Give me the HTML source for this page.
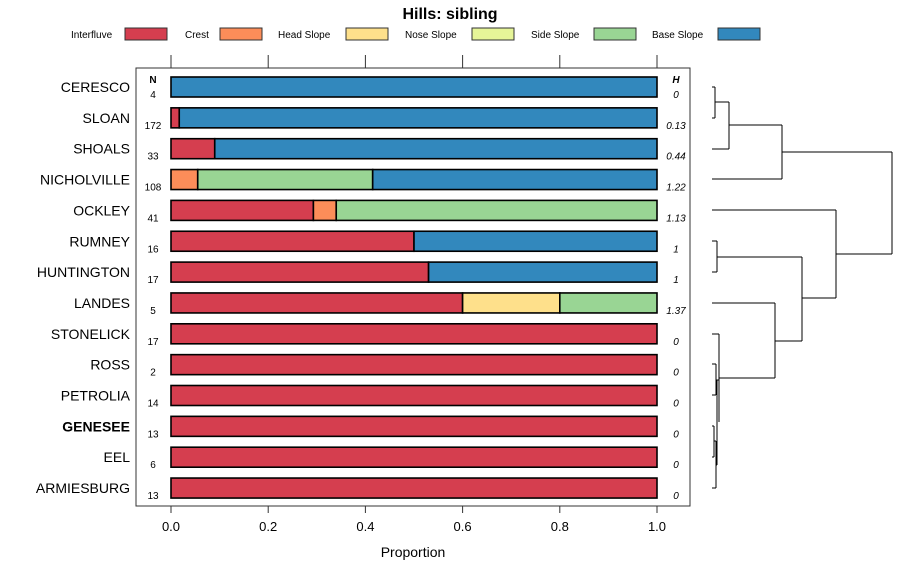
<!DOCTYPE html>
<html><head><meta charset="utf-8"><style>body{margin:0;background:#fff}svg{font-family:"Liberation Sans",sans-serif}</style></head>
<body>
<svg id="c" width="900" height="580"></svg>
<script>
const series=["Interfluve","Crest","Head Slope","Nose Slope","Side Slope","Base Slope"];
const colors=["#D53E4F","#FC8D59","#FEE08B","#E6F598","#99D594","#3288BD"];
const categories=["CERESCO","SLOAN","SHOALS","NICHOLVILLE","OCKLEY","RUMNEY","HUNTINGTON","LANDES","STONELICK","ROSS","PETROLIA","GENESEE","EEL","ARMIESBURG"];
const nValues=[4,172,33,108,41,16,17,5,17,2,14,13,6,13];
const hValues=["0","0.13","0.44","1.22","1.13","1","1","1.37","0","0","0","0","0","0"];
const interfluve=[0,0.017,0.09,0,0.293,0.5,0.53,0.6,1,1,1,1,1,1];
const crest=[0,0,0,0.055,0.047,0,0,0,0,0,0,0,0,0];
const headSlope=[0,0,0,0,0,0,0,0.2,0,0,0,0,0,0];
const noseSlope=[0,0,0,0,0,0,0,0,0,0,0,0,0,0];
const sideSlope=[0,0,0,0.36,0.66,0,0,0.2,0,0,0,0,0,0];
const baseSlope=[1,0.983,0.91,0.585,0,0.5,0.47,0,0,0,0,0,0,0];
const xTicks=[0,0.2,0.4,0.6,0.8,1.0];
const xTickLabels=["0.0","0.2","0.4","0.6","0.8","1.0"];
const svg=document.getElementById('c');const NS="http://www.w3.org/2000/svg";
function mk(t,a,p){const e=document.createElementNS(NS,t);for(const k in a)e.setAttribute(k,a[k]);(p||svg).appendChild(e);return e;}
const X=v=>171+v*486, Y=i=>87+i*30.85;
let t=mk('text',{x:450,y:19,'text-anchor':'middle','font-size':16,'font-weight':'bold'});t.textContent="Hills: sibling";


const lg=[[71,125],[185,220],[278,346],[405,472],[531,594],[652,718]];
series.forEach((s,i)=>{const g=mk('g',{});


let tt=mk('text',{x:lg[i][0],y:38,'font-size':10},g);tt.textContent=s;
mk('rect',{x:lg[i][1],y:28,width:42,height:12,fill:colors[i],stroke:'#333','stroke-width':1},g);});
const panel=mk('rect',{x:136,y:68,width:554,height:438,fill:'none',stroke:'#333'});


xTicks.forEach((v,i)=>{mk('line',{x1:X(v),x2:X(v),y1:55,y2:68,stroke:'#333'});mk('line',{x1:X(v),x2:X(v),y1:506,y2:513,stroke:'#333'});
const l=mk('text',{x:X(v),y:531,'text-anchor':'middle','font-size':13});l.textContent=xTickLabels[i];

});
t=mk('text',{x:413,y:557,'text-anchor':'middle','font-size':14});t.textContent="Proportion";


t=mk('text',{x:153,y:83,'text-anchor':'middle','font-size':10,'font-weight':'bold'});t.textContent="N";
t=mk('text',{x:676,y:83,'text-anchor':'middle','font-size':10,'font-weight':'bold','font-style':'italic'});t.textContent="H";
const vals=[interfluve,crest,headSlope,noseSlope,sideSlope,baseSlope];
categories.forEach((c,i)=>{const y=Y(i);
const l=mk('text',{x:130,y:y+5,'text-anchor':'end','font-size':14,'font-weight':c==="GENESEE"?'bold':'normal'});l.textContent=c;


const n=mk('text',{x:153,y:y+11,'text-anchor':'middle','font-size':10});n.textContent=nValues[i];
const h=mk('text',{x:676,y:y+11,'text-anchor':'middle','font-size':10,'font-style':'italic'});h.textContent=hValues[i];
let cum=0;vals.forEach((arr,j)=>{const v=arr[i];if(v>0){const r=mk('rect',{x:X(cum),y:y-10,width:X(cum+v)-X(cum),height:20,fill:colors[j],stroke:'#000','stroke-width':1.6});

}cum+=v;});});
// dendrogram
const segs=[[712,87,715,87],[712,118,715,118],[715,87,715,118],[715,102,729,102],[712,149,729,149],[729,102,729,149],[729,125,782,125],[712,179,782,179],[782,125,782,179],[782,152,892,152],
[712,210,836,210],[712,241,717,241],[712,272,717,272],[717,241,717,272],[717,257,802,257],[712,303,775,303],
[712,334,719,334],[712,364,716,364],[712,395,716,395],[716,364,716,395],[712,426,714,426],[712,457,714,457],[714,426,714,457],[714,441,716,441],[712,488,716,488],[716,441,716,488],[716,380,719,380],[716,465,717,465],[717,380,717,465],[719,334,719,422],[719,378,775,378],
[775,303,775,378],[775,341,802,341],[802,257,802,341],[802,298,836,298],[836,210,836,298],[836,254,892,254],[892,152,892,254]];
const dg=mk('g',{stroke:'#000','stroke-width':1,fill:'none'});


segs.forEach(s=>mk('line',{x1:s[0],y1:s[1],x2:s[2],y2:s[3]},dg));
</script>
</body></html>
